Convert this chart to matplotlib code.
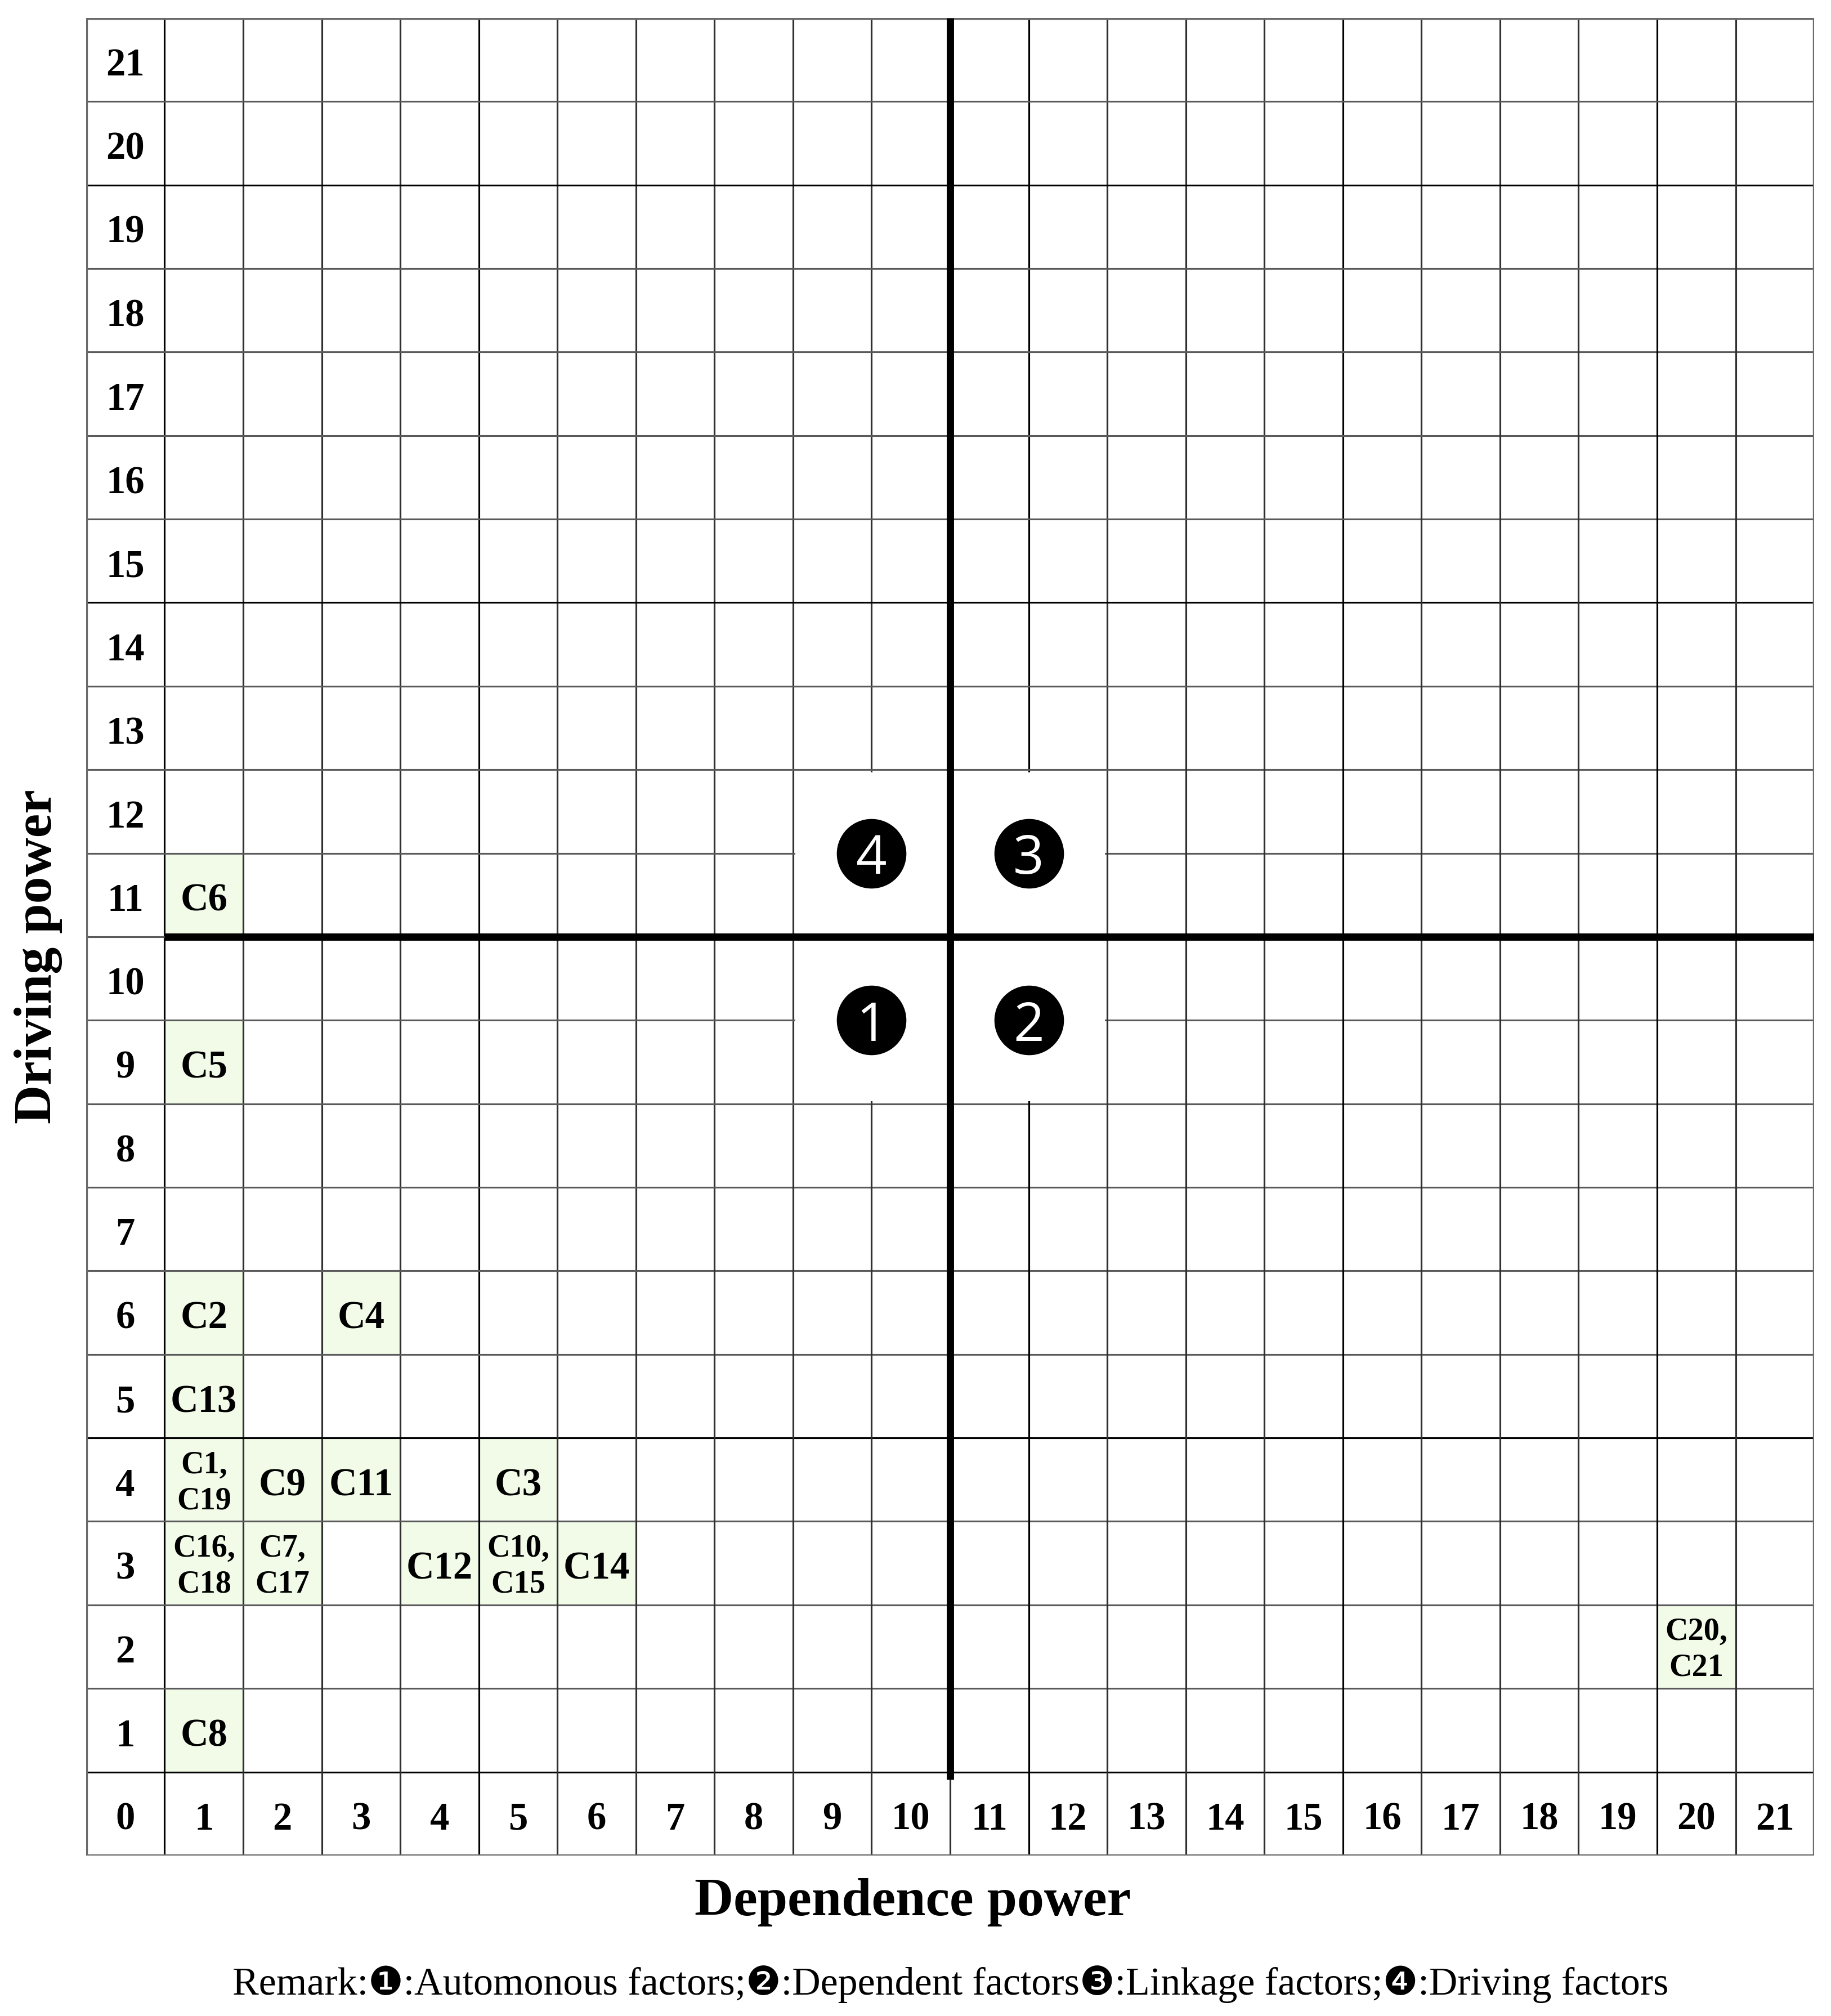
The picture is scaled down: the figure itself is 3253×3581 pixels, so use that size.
import numpy as np
import matplotlib
matplotlib.use('Agg')
import matplotlib.pyplot as plt
from matplotlib.patches import Rectangle

# Datos: poder de dependencia (x) y poder de impulso (y) de cada factor
etiquetas = ["C6", "C5", "C2", "C4", "C13", "C1,\nC19", "C9", "C11", "C3",
             "C16,\nC18", "C7,\nC17", "C12", "C10,\nC15", "C14", "C20,\nC21", "C8"]
dependencia = [1, 1, 1, 3, 1, 1, 2, 3, 5, 1, 2, 4, 5, 6, 20, 1]
impulso = [11, 9, 6, 6, 5, 4, 4, 4, 4, 3, 3, 3, 3, 3, 2, 1]

N = 21
CORTE = 10.5
cuadrantes = ["1", "2", "3", "4"]
dx_cuadrante = [-1, 1, 1, -1]
dy_cuadrante = [-1, -1, 1, 1]

SERIF = ['Liberation Serif', 'DejaVu Serif']
VERDE = '#F1FBE8'
GRIS = '#5a5a5a'
DY = -0.025  # pequeño ajuste vertical del texto

fig = plt.figure(figsize=(3253 / 300, 3581 / 300), dpi=300)
ax = fig.add_axes([0.0470, 0.0796, 0.9438, 0.9115])
ax.set_xlim(-0.5, N + 0.5)
ax.set_ylim(-0.5, N + 0.5)
ax.axis('off')

# celdas coloreadas
for x, y in zip(dependencia, impulso):
    ax.add_patch(Rectangle((x - 0.5, y - 0.5), 1, 1, facecolor=VERDE,
                           edgecolor='none', zorder=0.5))

# rejilla
oscuras_v = [0.5, 4.5, 11.5, 15.5, 19.5]
oscuras_h = [0.5, 4.5, 14.5, 19.5]
for k in np.arange(-0.5, N + 1):
    col = 'black' if k in oscuras_v else '#303030'
    ax.vlines(k, -0.5, N + 0.5, colors=col, lw=0.75, zorder=1)
    col = 'black' if k in oscuras_h else GRIS
    ax.hlines(k, -0.5, N + 0.5, colors=col, lw=0.75, zorder=1)
# borde exterior
ax.add_patch(Rectangle((-0.5, -0.5), N + 1, N + 1, fill=False,
                       edgecolor='#6a6a6a', lw=1.3, zorder=1.5))

# bloque blanco alrededor de los círculos
ax.add_patch(Rectangle((CORTE - 2 + 0.03, CORTE - 2 + 0.03), 3.94, 3.94,
                       facecolor='white', edgecolor='none', zorder=2))

# líneas de cuadrantes
ax.vlines(CORTE, 0.41, N + 0.5, colors='black', lw=3.1, zorder=3)
ax.hlines(CORTE, 0.5, N + 0.5, colors='black', lw=3.1, zorder=3)

# círculos numerados
cx = [CORTE + d for d in dx_cuadrante]
cy = [CORTE + d for d in dy_cuadrante]
ax.scatter(cx, cy, s=880, c='black', zorder=4, linewidths=0)
for t, x, y in zip(cuadrantes, cx, cy):
    ax.text(x, y, t, color='white', fontsize=23, family='Open Sans',
            ha='center', va='center_baseline', zorder=5)

# etiquetas de ejes dentro de la tabla
for r in range(N + 1):
    ax.text(0, r + DY, str(r), fontsize=16.5, fontweight='bold', family=SERIF,
            ha='center', va='center_baseline', zorder=5)
for c in range(1, N + 1):
    ax.text(c, DY, str(c), fontsize=16.5, fontweight='bold', family=SERIF,
            ha='center', va='center_baseline', zorder=5)

# etiquetas de factores
for t, x, y in zip(etiquetas, dependencia, impulso):
    if '\n' in t:
        ax.text(x, y - 0.04, t, fontsize=13.5, fontweight='bold', family=SERIF,
                ha='center', va='center', linespacing=1.3, zorder=5)
    else:
        ax.text(x, y + DY, t, fontsize=16.5, fontweight='bold', family=SERIF,
                ha='center', va='center_baseline', zorder=5)

fig.text(0.021, 0.5255, 'Driving power', rotation=90, fontsize=23,
         fontweight='bold', family=SERIF, ha='center', va='center')
fig.text(0.4985, 0.0565, 'Dependence power', fontsize=23,
         fontweight='bold', family=SERIF, ha='center', va='center')
fig.text(0.519, 0.0158,
         'Remark:\u2776:Automonous factors;\u2777:Dependent factors\u2778:Linkage factors;\u2779:Driving factors',
         fontsize=16.8, family=['Liberation Serif', 'DejaVu Sans'],
         ha='center', va='center')

plt.savefig('out.png', dpi=300, facecolor='white')
